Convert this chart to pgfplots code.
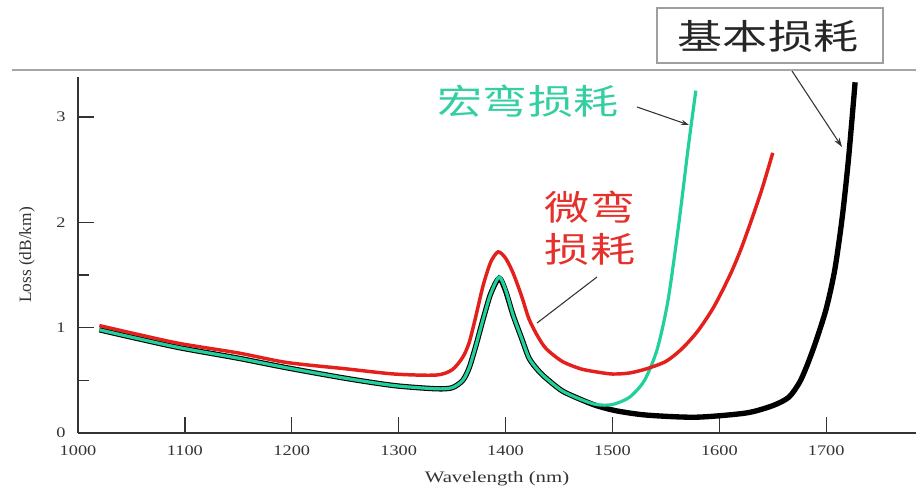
\documentclass[border=0pt]{standalone}
\usepackage{pgfplots}
\pgfplotsset{compat=1.18}
\usepackage{fontspec}
\setmainfont{Liberation Serif}
\newfontfamily\cjk{Noto Sans CJK SC}
\usetikzlibrary{arrows.meta}
\definecolor{mgreen}{HTML}{22D09C}
\definecolor{mgreentxt}{HTML}{33CFA2}
\definecolor{mred}{HTML}{E3201B}
\definecolor{mredtxt}{HTML}{E5302B}
\definecolor{axgray}{HTML}{333333}
\begin{document}
\begin{tikzpicture}
\path[use as bounding box] (0,0) rectangle (687pt,-369pt);
\begin{axis}[
  at={(58.5pt,-324.75pt)}, anchor=south west,
  scale only axis, width=628.5pt, height=267pt,
  xmin=1000, xmax=1784, ymin=0, ymax=3.38,
  axis x line*=bottom, axis y line*=left,
  axis line style={axgray, line width=1.5pt, -},
  xtick={1000,1100,1200,1300,1400,1500,1600,1700},
  ytick={0,1,2,3},
  minor ytick={0.5,1.5},
  tick align=inside,
  major tick length=12pt, minor tick length=8pt,
  tick style={axgray, line width=1pt},
  /pgf/number format/assume math mode=true,
  /pgf/number format/1000 sep={},
  xticklabel style={font=\fontsize{11}{13}\selectfont, xscale=1.25, yshift=-6pt, text=axgray},
  yticklabel style={font=\fontsize{11}{13}\selectfont, xscale=1.25, xshift=-4pt, text=axgray},
  xlabel={Wavelength (nm)},
  xlabel style={at={(axis description cs:0.5,-0.128)}, anchor=center, font=\fontsize{12}{14}\selectfont, xscale=1.3, text=axgray},
  ylabel={Loss (dB/km)},
  ylabel style={at={(axis description cs:-0.061,0.5)}, anchor=center, font=\fontsize{13}{15}\selectfont, text=axgray},
]
% basic loss (black)
\addplot[black, line width=4pt, smooth, tension=0.45] coordinates {
(1020,0.98) (1050,0.91) (1095,0.81) (1150,0.71) (1195,0.62) (1250,0.52)
(1296,0.45) (1335,0.42) (1350,0.43) (1360,0.50) (1366,0.62) (1372,0.82)
(1379,1.08) (1386,1.32) (1394,1.47) (1400,1.35) (1407,1.12) (1415,0.90)
(1422,0.71) (1430,0.60) (1438,0.52) (1453,0.40) (1470,0.32) (1485,0.26)
(1504,0.21) (1532,0.17) (1578,0.15) (1625,0.19) (1650,0.26) (1665,0.34)
(1675,0.48) (1682,0.64) (1690,0.86) (1700,1.18) (1708,1.55) (1715,2.05)
(1721,2.62) (1727,3.33)
};
% macro-bending (green)
\addplot[mgreen, line width=2.4pt, smooth, tension=0.45] coordinates {
(1020,0.98) (1050,0.91) (1095,0.81) (1150,0.71) (1195,0.62) (1250,0.52)
(1296,0.45) (1335,0.42) (1350,0.43) (1360,0.50) (1366,0.62) (1372,0.82)
(1379,1.08) (1386,1.32) (1394,1.48) (1400,1.36) (1407,1.12) (1415,0.90)
(1422,0.71) (1430,0.60) (1438,0.52) (1453,0.40) (1470,0.32) (1485,0.27)
(1500,0.27) (1516,0.34) (1530,0.50) (1542,0.80) (1552,1.26) (1562,1.98)
(1571,2.72) (1578,3.25)
};
% micro-bending (red)
\addplot[mred, line width=2.6pt, smooth, tension=0.45] coordinates {
(1020,1.02) (1050,0.95) (1095,0.85) (1150,0.76) (1195,0.67) (1250,0.61)
(1296,0.56) (1335,0.55) (1350,0.60) (1360,0.72) (1366,0.86) (1372,1.10)
(1379,1.40) (1386,1.62) (1393,1.72) (1400,1.66) (1407,1.52) (1415,1.30)
(1422,1.08) (1430,0.92) (1438,0.80) (1453,0.68) (1470,0.61) (1485,0.58)
(1500,0.56) (1516,0.57) (1532,0.61) (1550,0.68) (1565,0.80) (1580,0.97)
(1595,1.20) (1610,1.50) (1620,1.74) (1630,2.02) (1640,2.32) (1650,2.66)
};
\end{axis}
\begin{scope}[x=0.75pt,y=-0.75pt]
\draw[gray!70, line width=1.5pt] (12,70) -- (916,70);
\draw[gray!75, line width=1.2pt, fill=white] (657,8) rectangle (883,63);
\node[xscale=1.3, font=\cjk\fontsize{26}{30}\selectfont, text=black!85] at (768,36) {基本损耗};
\node[xscale=1.3, font=\cjk\fontsize{26}{30}\selectfont, text=mgreentxt] at (528,101) {宏弯损耗};
\node[xscale=1.3, font=\cjk\fontsize{26}{30}\selectfont, text=mredtxt] at (590,207) {微弯};
\node[xscale=1.3, font=\cjk\fontsize{26}{30}\selectfont, text=mredtxt] at (590,249) {损耗};
\draw[axgray, line width=0.8pt, -{Stealth[length=7pt,width=4.5pt]}] (792,71) -- (842,147);
\draw[axgray, line width=0.8pt, -{Stealth[length=6pt,width=4pt]}] (637,107) -- (689,125);
\draw[axgray, line width=0.8pt] (597,277) -- (537,323);
\end{scope}
\end{tikzpicture}
\end{document}
